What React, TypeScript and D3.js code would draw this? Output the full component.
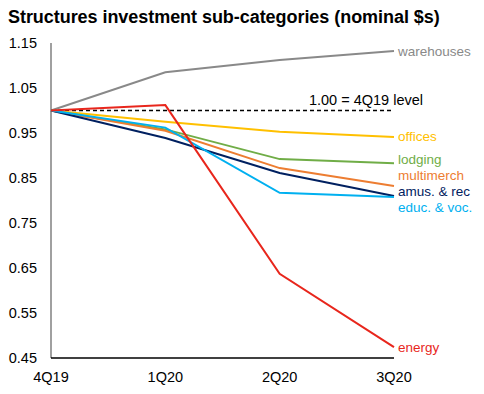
import React, { useEffect, useRef } from 'react';
import * as d3 from 'd3';

const quarters = ['4Q19', '1Q20', '2Q20', '3Q20'];
const yTicks = [0.45, 0.55, 0.65, 0.75, 0.85, 0.95, 1.05, 1.15];

const warehouses = [1.0, 1.085, 1.112, 1.132];
const offices = [1.0, 0.975, 0.953, 0.941];
const lodging = [1.0, 0.958, 0.892, 0.883];
const multimerch = [1.0, 0.955, 0.872, 0.832];
const amusRec = [1.0, 0.939, 0.861, 0.81];
const educVoc = [1.0, 0.962, 0.817, 0.808];
const energy = [1.0, 1.012, 0.637, 0.474];

const seriesNames = ['warehouses', 'offices', 'lodging', 'multimerch', 'amus. & rec', 'educ. & voc.', 'energy'];
const seriesValues = [warehouses, offices, lodging, multimerch, amusRec, educVoc, energy];
const seriesColors = ['#898989', '#ffc000', '#70ad47', '#ed7d31', '#002060', '#00b0f0', '#e8261c'];
// label vertical positions (data units) where they sit next to line ends
const labelY = [1.133, 0.943, 0.893, 0.857, 0.821, 0.786, 0.474];

const App = () => {
  const ref = useRef<SVGSVGElement>(null);

  useEffect(() => {
    const svg = d3.select(ref.current);
    svg.selectAll('*').remove();

    const left = 51, right = 394, top = 43, bottom = 358;
    const x = d3.scalePoint().domain(quarters).range([left, right]);
    const y = d3.scaleLinear().domain([0.45, 1.15]).range([bottom, top]);
    const font = 'Liberation Sans, Arial, sans-serif';

    // title
    svg.append('text')
      .attr('x', 8).attr('y', 23)
      .attr('font-family', font).attr('font-size', 18).attr('font-weight', 'bold')
      .attr('letter-spacing', -0.05)
      .text('Structures investment sub-categories (nominal $s)');

    // y axis line
    svg.append('line')
      .attr('x1', left).attr('x2', left).attr('y1', top).attr('y2', bottom)
      .attr('stroke', '#808080').attr('stroke-width', 1.5);
    // x axis line
    svg.append('line')
      .attr('x1', left).attr('x2', right).attr('y1', bottom).attr('y2', bottom)
      .attr('stroke', '#000').attr('stroke-width', 1.5);

    svg.selectAll('.ytick')
      .data(yTicks)
      .join('text')
      .attr('class', 'ytick')
      .attr('x', 37).attr('y', d => y(d) + 5)
      .attr('text-anchor', 'end')
      .attr('font-family', font).attr('font-size', 14.5)
      .text(d => d.toFixed(2));

    svg.selectAll('.xtick')
      .data(quarters)
      .join('text')
      .attr('class', 'xtick')
      .attr('x', d => x(d)!).attr('y', 382)
      .attr('text-anchor', 'middle')
      .attr('font-family', font).attr('font-size', 14.5)
      .text(d => d);

    // reference line
    svg.append('line')
      .attr('x1', left).attr('x2', right).attr('y1', y(1)).attr('y2', y(1))
      .attr('stroke', '#000').attr('stroke-width', 1.5).attr('stroke-dasharray', '4,3');
    svg.append('text')
      .attr('x', 366).attr('y', y(1) - 6)
      .attr('text-anchor', 'middle')
      .attr('font-family', font).attr('font-size', 14.5)
      .text('1.00 = 4Q19 level');

    const line = d3.line<number>()
      .x((d, i) => x(quarters[i])!)
      .y(d => y(d));

    seriesValues.forEach((vals, i) => {
      svg.append('path')
        .attr('d', line(vals))
        .attr('fill', 'none')
        .attr('stroke', seriesColors[i])
        .attr('stroke-width', 2);
    });

    seriesNames.forEach((name, i) => {
      svg.append('text')
        .attr('x', 398).attr('y', y(labelY[i]) + 5)
        .attr('font-family', font).attr('font-size', 13.5)
        .attr('fill', seriesColors[i])
        .text(name);
    });
  }, []);

  return <svg ref={ref} width={484} height={394} style={{ position: 'absolute', left: 0, top: 0 }} />;
};

export default App;
